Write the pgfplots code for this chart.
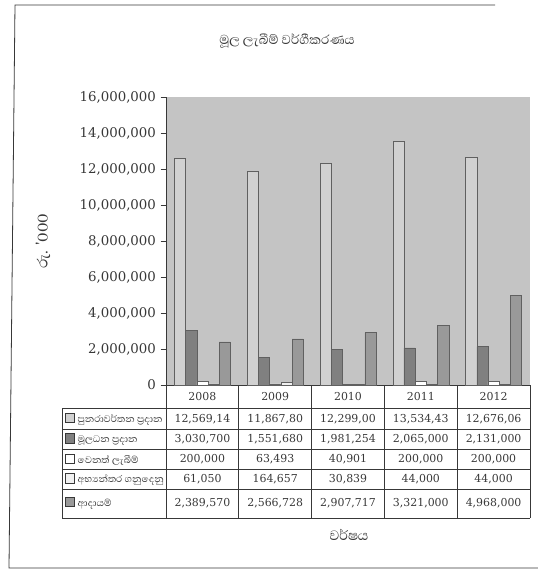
\documentclass[border=0pt]{standalone}
\usepackage{fontspec}
\setmainfont{DejaVu Serif}
\newfontfamily\sinhala[Script=Sinhala]{Abhaya Libre}
\usepackage{pgfplots}
\pgfplotsset{compat=1.18}
\definecolor{bg}{gray}{0.77}
\definecolor{cA}{gray}{0.82}
\definecolor{cB}{gray}{0.50}
\definecolor{cC}{gray}{1.00}
\definecolor{cD}{gray}{0.94}
\definecolor{cE}{gray}{0.60}
\definecolor{ink}{gray}{0.22}
\newcommand\key[1]{{\setlength\fboxsep{0pt}\setlength\fboxrule{0.4pt}\fcolorbox{ink}{#1}{\rule{0pt}{6.5pt}\rule{6.5pt}{0pt}}}}
\begin{document}
\begin{tikzpicture}
\begin{scope}[x=0.75pt,y=-0.75pt]
\useasboundingbox (0,0) rectangle (538,571);
\draw[ink, line width=0.6pt] (495,5) -- (15,5) -- (9,568) -- (538,568);
\node[ink, font=\sinhala\fontsize{12.4}{14}\selectfont] at (287,41) {මූල ලැබීම් වර්ගීකරණය};
\node[ink, rotate=90, font=\sinhala\fontsize{14}{16}\selectfont] at (43,241) {රු. '000};
\node[ink, font=\sinhala\fontsize{13}{15}\selectfont] at (349,535) {වර්ෂය};
\end{scope}
\begin{axis}[
  at={(124.5pt,-288.75pt)}, anchor=south west,
  scale only axis, width=273pt, height=216pt,
  axis background/.style={fill=bg},
  axis x line=bottom, axis y line=left,
  axis line style={-, ink, line width=0.5pt},
  xmin=-0.5, xmax=4.5, ymin=0, ymax=16000000,
  xtick=\empty,
  ytick={0,2000000,4000000,6000000,8000000,10000000,12000000,14000000,16000000},
  scaled y ticks=false,
  yticklabel style={/pgf/number format/.cd, fixed, 1000 sep={,}, assume math mode=true},
  tick label style={font=\fontsize{10}{12}\selectfont, text=ink},
  tick align=outside, major tick length=4pt, tick style={ink},
  ybar=0pt, bar width=8.4pt,
  clip=false,
]
\addplot[fill=cA, draw=ink!80, line width=0.4pt] coordinates {(0,12569140) (1,11867800) (2,12299000) (3,13534430) (4,12676060)};
\addplot[fill=cB, draw=ink!80, line width=0.4pt] coordinates {(0,3030700) (1,1551680) (2,1981254) (3,2065000) (4,2131000)};
\addplot[fill=cC, draw=ink!80, line width=0.4pt] coordinates {(0,200000) (1,63493) (2,40901) (3,200000) (4,200000)};
\addplot[fill=cD, draw=ink!80, line width=0.4pt] coordinates {(0,61050) (1,164657) (2,30839) (3,44000) (4,44000)};
\addplot[fill=cE, draw=ink!80, line width=0.4pt] coordinates {(0,2389570) (1,2566728) (2,2907717) (3,3321000) (4,4968000)};
\end{axis}
\begin{scope}[x=0.75pt,y=-0.75pt, ink]
\draw[line width=0.5pt] (166,385) -- (166,518);
\foreach \c in {238.8,311.6,384.4,457.2,530} \draw[line width=0.5pt] (\c,385) -- (\c,518);
\draw[line width=0.5pt] (62,408) -- (62,518);
\foreach \r in {408,429.5,449.5,469.5,489.5,518} \draw[line width=0.5pt] (62,\r) -- (530,\r);
\tikzset{num/.style={font=\fontsize{8.2}{10}\selectfont, text=ink}}
\foreach \y [count=\i from 0] in {2008,2009,2010,2011,2012}
  \node[num] at (202.4+72.8*\i,396.5) {\y};
\foreach \v [count=\i from 0] in {{12,569,14},{11,867,80},{12,299,00},{13,534,43},{12,676,06}}
  \node[num] at (202.4+72.8*\i,419) {\v};
\foreach \v [count=\i from 0] in {{3,030,700},{1,551,680},{1,981,254},{2,065,000},{2,131,000}}
  \node[num] at (202.4+72.8*\i,439.5) {\v};
\foreach \v [count=\i from 0] in {{200,000},{63,493},{40,901},{200,000},{200,000}}
  \node[num] at (202.4+72.8*\i,459.5) {\v};
\foreach \v [count=\i from 0] in {{61,050},{164,657},{30,839},{44,000},{44,000}}
  \node[num] at (202.4+72.8*\i,479.5) {\v};
\foreach \v [count=\i from 0] in {{2,389,570},{2,566,728},{2,907,717},{3,321,000},{4,968,000}}
  \node[num] at (202.4+72.8*\i,503) {\v};
\tikzset{lab/.style={anchor=west, inner sep=0pt, font=\sinhala\fontsize{9.2}{11}\selectfont, text=ink}}
\node[lab] at (65,419) {\key{cA}\hspace{2pt}පුනරාවර්තන ප්^^^^200dරදාන};
\node[lab] at (65,439.5) {\key{cB}\hspace{2pt}මූලධන ප්^^^^200dරදාන};
\node[lab] at (65,459.5) {\key{cC}\hspace{2pt}වෙනත් ලැබීම්};
\node[lab] at (65,479.5) {\key{cD}\hspace{2pt}අභ්^^^^200dයන්තර ගනුදෙනු};
\node[lab] at (65,503) {\key{cE}\hspace{2pt}ආදායම්};
\end{scope}
\end{tikzpicture}
\end{document}
